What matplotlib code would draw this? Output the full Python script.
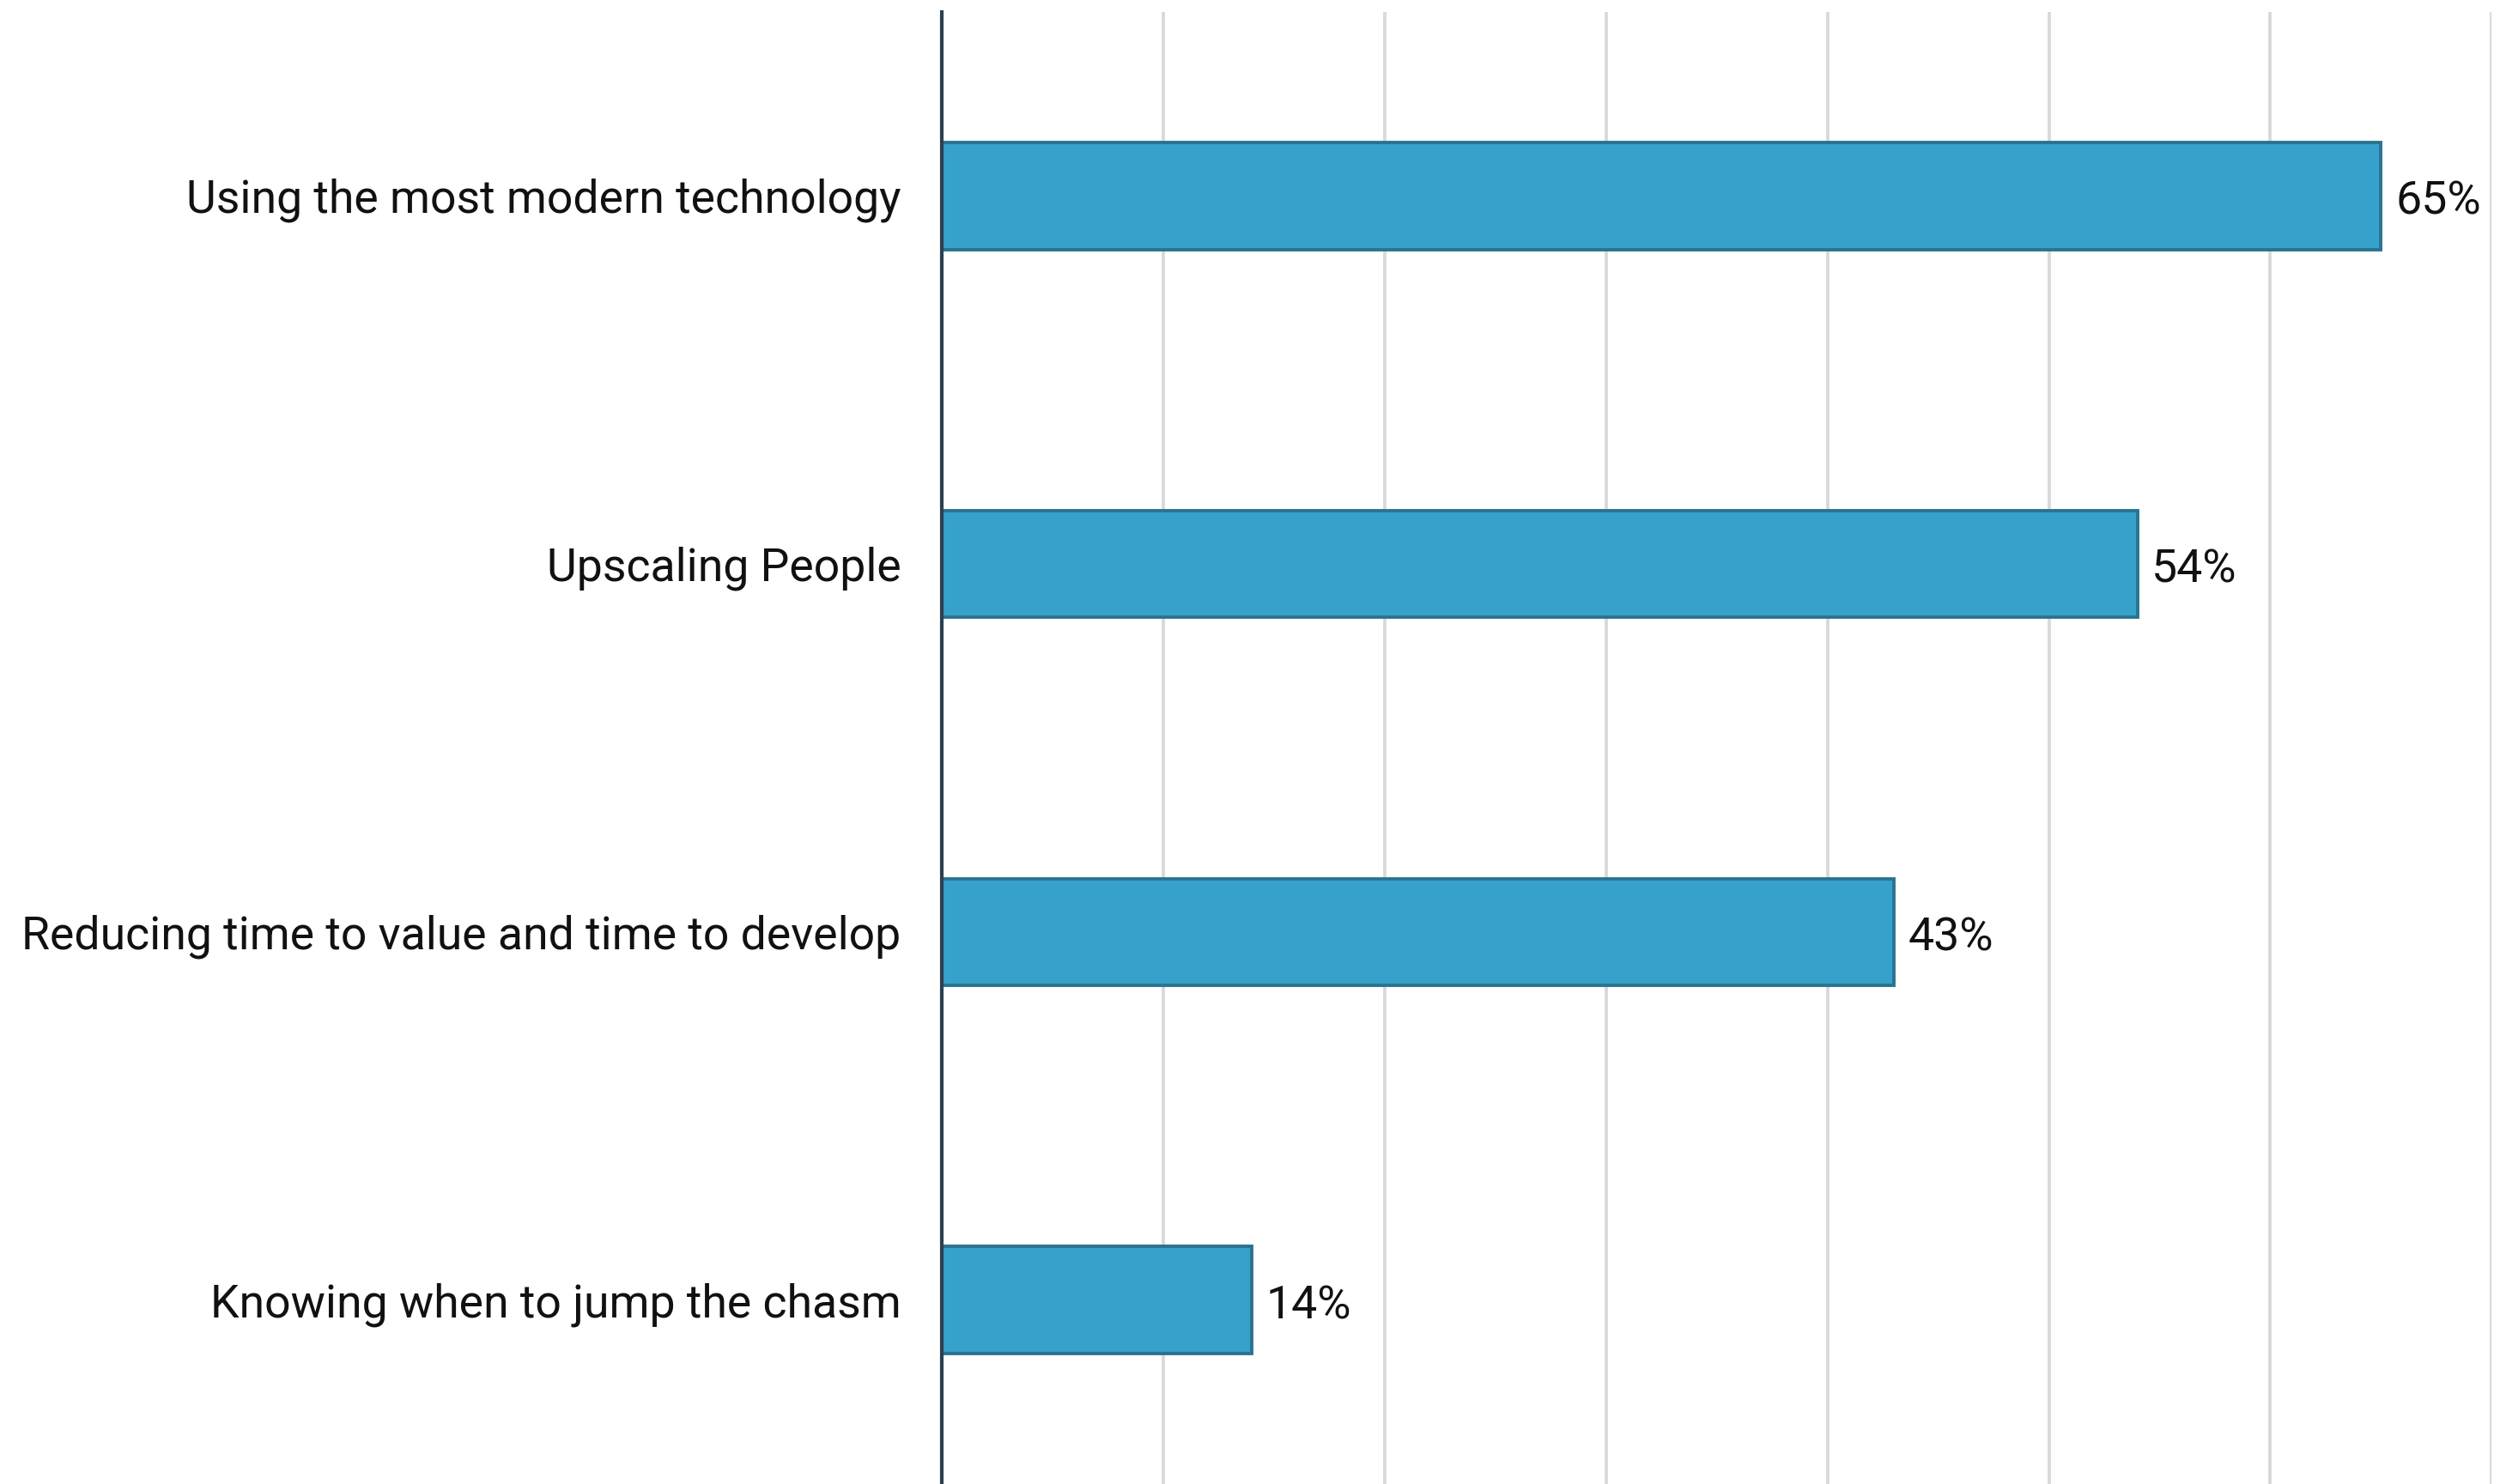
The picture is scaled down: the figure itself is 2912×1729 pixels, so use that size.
import matplotlib
matplotlib.use("Agg")
import numpy as np
from matplotlib import pyplot as plt
import matplotlib.transforms as mtransforms

# dados do grafico
categorias = ["Using the most modern technology", "Upscaling People",
              "Reducing time to value and time to develop", "Knowing when to jump the chasm"]
valores = [65, 54, 43, 14]
rotulos = ["65%", "54%", "43%", "14%"]

plt.rcParams['font.family'] = ['Roboto', 'DejaVu Sans']

fig = plt.figure(figsize=(14.56, 8.645), dpi=200)
ax = fig.add_axes([0.3767, 0.0, 0.62, 0.9919])

y = np.arange(len(categorias))
ax.barh(y, valores, height=0.29, color="#36a2cb", edgecolor="#2a7490", linewidth=1.4, zorder=3)

# rotulos de porcentagem
for yi, v, r in zip(y, valores, rotulos):
    ax.annotate(r, (v, yi), xytext=(6, -2.5), textcoords="offset points",
                va="center", ha="left", fontsize=19.3, color="#111111")

ax.set_xlim(0, 70)
ax.set_ylim(3.5, -0.5)
ax.set_xticks(np.arange(10, 71, 10))
ax.set_xticklabels([])
ax.tick_params(axis="x", length=0)
ax.grid(axis="x", color="#d9d9d9", linewidth=1.4, zorder=0)
ax.set_yticks(y)
ax.set_yticklabels(categorias, fontsize=19.3, color="#111111")
ax.tick_params(axis="y", length=0, pad=17)

# ajuste fino dos rotulos do eixo y
desloc = mtransforms.ScaledTranslation(0, 0.2 / 72, fig.dpi_scale_trans)
for lbl in ax.get_yticklabels():
    lbl.set_transform(lbl.get_transform() + desloc)

for s in ["top", "right", "bottom"]:
    ax.spines[s].set_visible(False)
ax.spines["left"].set_color("#2d3e50")
ax.spines["left"].set_linewidth(1.5)
ax.spines["left"].set_zorder(4)

fig.savefig("out.png", dpi=200)
